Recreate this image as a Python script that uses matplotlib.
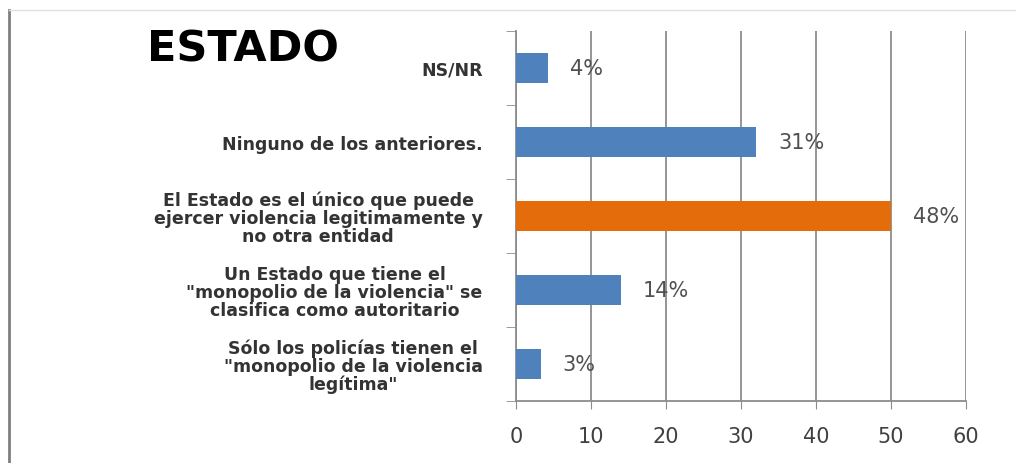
import matplotlib
matplotlib.use("Agg")
import matplotlib.pyplot as plt
from matplotlib.lines import Line2D
import numpy as np

categories = [
    'Sólo los policías tienen el\n"monopolio de la violencia\nlegítima"',
    'Un Estado que tiene el\n"monopolio de la violencia" se\nclasifica como autoritario',
    'El Estado es el único que puede\nejercer violencia legitimamente y\nno otra entidad',
    'Ninguno de los anteriores.',
    'NS/NR',
]
values = [3.3, 14, 50, 32, 4.3]
value_labels = ["3%", "14%", "48%", "31%", "4%"]
colors = ["#4F81BD", "#4F81BD", "#E46C0A", "#4F81BD", "#4F81BD"]
xticks = [0, 10, 20, 30, 40, 50, 60]
title = "ESTADO"

fig = plt.figure(figsize=(10.16, 4.64), dpi=100)
fig.patch.set_facecolor("white")
ax = fig.add_axes([516/1016, 1-402/464, 450/1016, 370/464])

y = np.arange(len(categories))
ax.set_axisbelow(True)
ax.barh(y, values, height=0.4, color=colors, zorder=3)

ax.set_xlim(0, 60)
ax.set_ylim(-0.5, len(categories) - 0.5)
ax.set_xticks(xticks)
ax.set_xticklabels([str(t) for t in xticks])
ax.xaxis.grid(True, color="#8C8C8C", linewidth=1.3)
ax.yaxis.grid(False)

ax.set_yticks(y)
ax.set_yticklabels(categories, fontsize=12.5, fontweight="bold", color="#333333",
                   multialignment="center", linespacing=1.0)
ax.set_yticks(np.arange(-0.5, len(categories), 1.0), minor=True)
ax.tick_params(axis="y", which="major", length=0, pad=24)
ax.tick_params(axis="y", which="minor", length=7, color="#8C8C8C", direction="out")
ax.tick_params(axis="x", which="major", length=6, color="#8C8C8C", direction="out",
               labelsize=15, labelcolor="#404040", pad=12)

for side in ["top", "right"]:
    ax.spines[side].set_visible(False)
for side in ["left", "bottom"]:
    ax.spines[side].set_color("#8C8C8C")
    ax.spines[side].set_linewidth(1.3)

for yi, v, lab in zip(y, values, value_labels):
    ax.annotate(lab, xy=(v, yi), xytext=(22, 0), textcoords="offset pixels",
                ha="left", va="center", fontsize=15, color="#505050")

fig.text(243/1016, 1-49/464, title, ha="center", va="center",
         fontsize=31, fontweight="bold", color="black")

# frame lines of the original picture
fig.add_artist(Line2D([9/1016, 9/1016], [0, 1-11/464], transform=fig.transFigure,
                      color="#7F7F7F", linewidth=2))
fig.add_artist(Line2D([9/1016, 1], [1-11/464, 1-11/464], transform=fig.transFigure,
                      color="#E0E0E0", linewidth=1))

fig.savefig("out.png", dpi=100, facecolor="white")
